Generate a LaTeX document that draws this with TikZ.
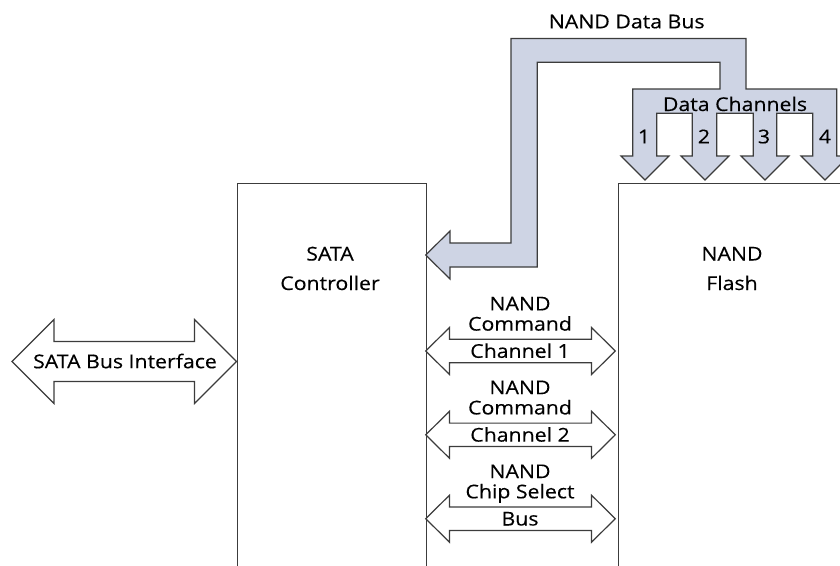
\documentclass[tikz,border=0pt]{standalone}
\usepackage{fontspec}
\setmainfont{Open Sans}[FakeStretch=1.12, FakeBold=0.35]
\definecolor{busfill}{RGB}{206,212,228}
\definecolor{edge}{RGB}{60,60,60}
\tikzset{
  outline/.style={draw=edge, line width=1.2pt, line join=miter},
  buspath/.style={outline, fill=busfill},
  openarrow/.style={outline, fill=white},
  lbl/.style={inner sep=0pt, anchor=base, font=\fontsize{19}{20}\selectfont, text=black},
  block/.style={outline, anchor=north west, inner sep=0pt}
}
\begin{document}
\begin{tikzpicture}[x=1pt,y=-1pt]
\useasboundingbox (0,0) rectangle (840,565);
\clip (0,0) rectangle (840,565);

% the two chips (open at the bottom and right edges of the sheet)
\node[block, minimum width=189pt, minimum height=430pt] (ctrl) at (236.5,183) {};
\node[block, minimum width=260pt, minimum height=430pt] (flash) at (618,183) {};

% NAND data bus with its four data channels
\draw[buspath] (425.7,255) -- (450,231) -- (450,243) -- (511,243) -- (511,38.5)
  -- (746,38.5) -- (746,89) -- (836.7,89) -- (836.7,156) -- (849,156) -- (825,180)
  -- (801,156) -- (812.7,156) -- (812.7,113.3) -- (776.7,113.3) -- (776.7,156)
  -- (789,156) -- (765,180) -- (741,156) -- (753.3,156) -- (753.3,113.3)
  -- (716.7,113.3) -- (716.7,156) -- (729,156) -- (705,180) -- (681,156)
  -- (692.3,156) -- (692.3,113.3) -- (656.7,113.3) -- (656.7,156) -- (669,156)
  -- (645,180) -- (621,156) -- (632.7,156) -- (632.7,89) -- (720,89) -- (720,62.3)
  -- (537.3,62.3) -- (537.3,267) -- (450,267) -- (450,279) -- cycle;

% SATA bus interface
\draw[openarrow] (12,361.5) -- (54,319.5) -- (54,341.5) -- (194.5,341.5)
  -- (194.5,319.5) -- (236.5,361.5) -- (194.5,403.5) -- (194.5,381.5)
  -- (54,381.5) -- (54,403.5) -- cycle;

% command channels and chip select bus
\foreach \yc in {351,434.8,518.7}{
  \draw[openarrow] (425.7,\yc) -- (449.5,\yc-23.5) -- (449.5,\yc-11.7)
    -- (591.5,\yc-11.7) -- (591.5,\yc-23.5) -- (615.3,\yc) -- (591.5,\yc+23.5)
    -- (591.5,\yc+11.7) -- (449.5,\yc+11.7) -- (449.5,\yc+23.5) -- cycle;
}

% labels
\node[lbl] (busname) at (626.7,28.3) {NAND Data Bus};
\node[lbl] (chname) at (735,111) {Data Channels};
\node[lbl] (ch1) at (644,143.3) {1};
\node[lbl] (ch2) at (704,143.3) {2};
\node[lbl] (ch3) at (764,143.3) {3};
\node[lbl] (ch4) at (825,143.3) {4};

\node[lbl] (ctrlA) at (330,260.5) {SATA};
\node[lbl] (ctrlB) at (330,290) {Controller};
\node[lbl] (flashA) at (732,260.5) {NAND};
\node[lbl] (flashB) at (732,290) {Flash};

\node[lbl] (sata) at (125,368.2) {SATA Bus Interface};

\node[lbl] (cmdA1) at (520,310.4) {NAND};
\node[lbl] (cmdA2) at (520,330.6) {Command};
\node[lbl] (cmdA3) at (520,357.8) {Channel 1};

\node[lbl] (cmdB1) at (520,394.2) {NAND};
\node[lbl] (cmdB2) at (520,414.4) {Command};
\node[lbl] (cmdB3) at (520,441.6) {Channel 2};

\node[lbl] (csA) at (520,478.1) {NAND};
\node[lbl] (csB) at (520,498.3) {Chip Select};
\node[lbl] (csC) at (520,525.5) {Bus};
\end{tikzpicture}
\end{document}
